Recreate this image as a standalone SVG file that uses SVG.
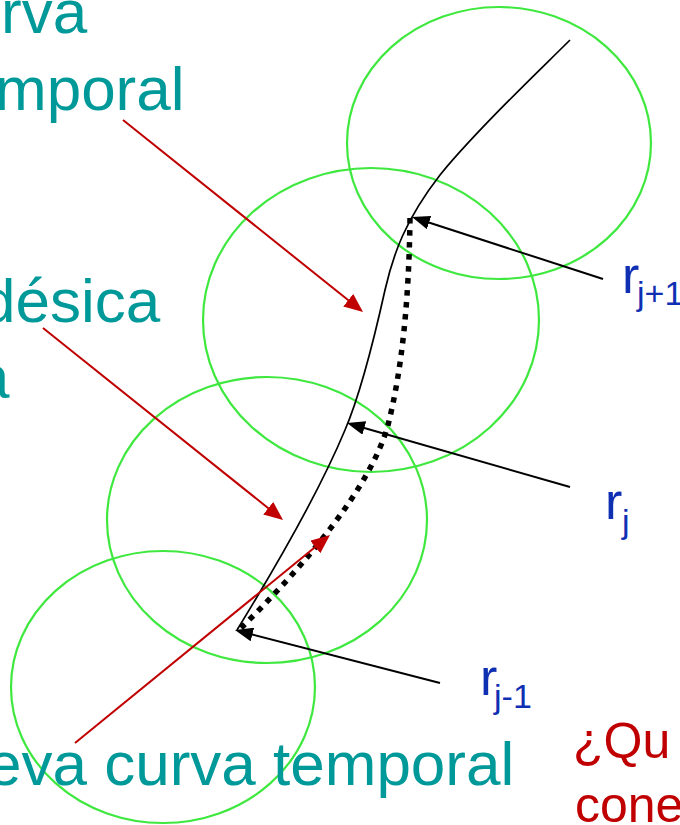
<svg xmlns="http://www.w3.org/2000/svg" width="680" height="825" viewBox="0 0 680 825">
<style>
.ring{fill:none;stroke:#3ee83e;stroke-width:2.2}
.teal{font-family:"Liberation Sans",Arial,sans-serif;font-size:62px;fill:#009999}
.red{font-family:"Liberation Sans",Arial,sans-serif;font-size:50px;fill:#c00000}
.blue{font-family:"Liberation Sans",Arial,sans-serif;font-size:52px;fill:#1030b4}
.sub{font-size:34px}
.blk{fill:none;stroke:#000;stroke-width:2}
.rd{fill:none;stroke:#c00000;stroke-width:2}
</style>
<defs>
<marker id="ab" markerWidth="18" markerHeight="14" refX="10" refY="7" orient="auto" markerUnits="userSpaceOnUse"><path d="M0,0 L18,7 L0,14 z" fill="#000"/></marker>
<marker id="ar" markerWidth="19" markerHeight="16" refX="11" refY="8" orient="auto" markerUnits="userSpaceOnUse"><path d="M0,0 L19,8 L0,16 z" fill="#c00000"/></marker>
</defs>
<rect width="680" height="825" fill="#fff"/>
<g id="circle1"><ellipse class="ring" cx="499" cy="143" rx="152" ry="136"/></g>
<g id="circle2"><ellipse class="ring" cx="371" cy="320" rx="168" ry="152"/></g>
<g id="circle3"><ellipse class="ring" cx="267" cy="520" rx="160" ry="143"/></g>
<g id="circle4"><ellipse class="ring" cx="163" cy="687" rx="152" ry="136"/></g>
<g id="curva-temporal"><path d="M570,40 C540,70 478,128 440,175 C405,220 393,255 385,290 C375,335 360,395 345,430 C320,490 280,560 237,630" fill="none" stroke="#000" stroke-width="1.7"/></g>
<g id="geodesica"><path d="M410,218 C409,300 402,370 388,425 C370,490 300,570 241,628" fill="none" stroke="#000" stroke-width="5.5" stroke-dasharray="5.5 6.5"/></g>
<g id="label-curva"><text class="teal" x="1" y="33">rva</text><text class="teal" x="-5" y="110">mporal</text></g>
<g id="label-geodesica"><text class="teal" x="-19" y="322">désica</text><text class="teal" x="-25" y="398">a</text></g>
<g id="label-nueva"><text class="teal" x="-13" y="785">eva curva temporal</text></g>
<g id="label-pregunta"><text class="red" x="573" y="758">¿Qu</text><text class="red" x="575" y="822">cone</text></g>
<g id="label-rj1"><text class="blue" x="622" y="293">r<tspan class="sub" x="637" y="305">j+1</tspan></text></g>
<g id="label-rj"><text class="blue" x="605" y="519">r<tspan class="sub" x="622" y="533">j</tspan></text></g>
<g id="label-rjm1"><text class="blue" x="480" y="695">r<tspan class="sub" x="494" y="708">j-1</tspan></text></g>
<g id="connectors">
<line class="blk" x1="603" y1="279" x2="419.6" y2="219.5" marker-end="url(#ab)"/>
<line class="blk" x1="570" y1="487" x2="354.7" y2="425.2" marker-end="url(#ab)"/>
<line class="blk" x1="440" y1="683" x2="242.7" y2="632" marker-end="url(#ab)"/>
<line class="rd" x1="123" y1="120" x2="356.8" y2="307" marker-end="url(#ar)"/>
<line class="rd" x1="43" y1="328" x2="276.8" y2="515" marker-end="url(#ar)"/>
<line class="rd" x1="75" y1="743" x2="323.8" y2="540.1" marker-end="url(#ar)"/>
</g>
</svg>
